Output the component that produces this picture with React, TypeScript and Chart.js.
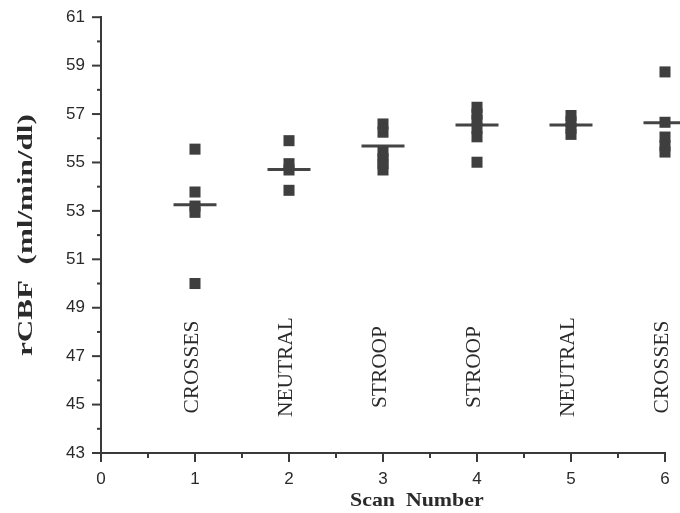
import React, { useEffect, useRef } from 'react';
import { Chart, registerables } from 'chart.js';

Chart.register(...registerables);

// ---- data ----
const scanNumbers = [1, 2, 3, 4, 5, 6];
const conditionLabels = ['CROSSES', 'NEUTRAL', 'STROOP', 'STROOP', 'NEUTRAL', 'CROSSES'];
const scan1Values = [55.55, 53.78, 53.2, 52.94, 50.0];
const scan2Values = [55.9, 54.95, 54.69, 53.85];
const scan3Values = [56.59, 56.25, 55.43, 55.16, 54.95, 54.69];
const scan4Values = [57.28, 57.0, 56.74, 56.41, 56.06, 55.01];
const scan5Values = [56.94, 56.68, 56.41, 56.16];
const scan6Values = [58.74, 56.66, 56.05, 55.69, 55.43];
const scanMeans = [53.25, 54.71, 55.68, 56.55, 56.55, 56.64];
const xAxisMin = 0;
const xAxisMax = 6;
const yAxisMin = 43;
const yAxisMax = 61;
const conditionLabelLevel = 46.55;
const yTitleText = 'rCBF  (ml/min/dl)';
const xTitleText = 'Scan  Number';

const INK = '#2a2a2a';
const AXIS = '#3a3a3a';
const MARK = '#3f3f3f';
const SERIF = '"Liberation Serif", "Times New Roman", serif';
const SANS = '"Liberation Sans", Arial, sans-serif';

function drawText(
  ctx: CanvasRenderingContext2D,
  text: string,
  x: number,
  y: number,
  rotation: number,
  font: string,
  sx: number
) {
  ctx.save();
  ctx.translate(x, y);
  ctx.rotate(rotation);
  ctx.scale(sx, 1);
  ctx.font = font;
  ctx.fillStyle = INK;
  ctx.textAlign = 'center';
  ctx.textBaseline = 'middle';
  ctx.fillText(text, 0, 0);
  ctx.restore();
}

const decorPlugin = {
  id: 'decor',
  afterDraw(chart: any) {
    const { ctx, chartArea, scales } = chart;
    const xs = scales.x;
    const ys = scales.y;
    ctx.save();
    ctx.strokeStyle = AXIS;
    ctx.lineWidth = 2;
    // y ticks: major at odd values (labelled), minor in between
    ys.ticks.forEach((t: any) => {
      const py = ys.getPixelForValue(t.value);
      const major = Math.abs(t.value % 2) === 1;
      const len = major ? 9 : 4;
      ctx.beginPath();
      ctx.moveTo(chartArea.left - len, py);
      ctx.lineTo(chartArea.left, py);
      ctx.stroke();
    });
    // x ticks: major at integers, minor at halves
    xs.ticks.forEach((t: any) => {
      const px = xs.getPixelForValue(t.value);
      const major = Number.isInteger(t.value);
      const len = major ? 9 : 5;
      ctx.beginPath();
      ctx.moveTo(px, chartArea.bottom);
      ctx.lineTo(px, chartArea.bottom + len);
      ctx.stroke();
    });
    ctx.restore();

    // condition labels, rotated
    const labelY = ys.getPixelForValue(conditionLabelLevel);
    conditionLabels.forEach((lab, i) => {
      const px = xs.getPixelForValue(scanNumbers[i]) - 2;
      drawText(ctx, lab, px, labelY, -Math.PI / 2, `normal 20px ${SERIF}`, 1.07);
    });

    // axis titles
    drawText(
      ctx,
      yTitleText,
      27,
      (chartArea.top + chartArea.bottom) / 2,
      -Math.PI / 2,
      `bold 21px ${SERIF}`,
      1.48
    );
    drawText(
      ctx,
      xTitleText,
      xs.getPixelForValue(3.36),
      501,
      0,
      `bold 19px ${SERIF}`,
      1.15
    );
  },
};

export default function App() {
  const canvasRef = useRef<HTMLCanvasElement | null>(null);

  useEffect(() => {
    if (!canvasRef.current) return;
    const allScans = [scan1Values, scan2Values, scan3Values, scan4Values, scan5Values, scan6Values];
    const pointData = allScans.flatMap((vals, i) =>
      vals.map((v) => ({ x: scanNumbers[i], y: v }))
    );
    const meanData = scanMeans.map((v, i) => ({ x: scanNumbers[i], y: v }));

    const chart = new Chart(canvasRef.current, {
      type: 'scatter',
      data: {
        datasets: [
          {
            label: 'Subjects',
            data: pointData,
            pointStyle: 'rect',
            pointRadius: 7.8,
            pointBackgroundColor: MARK,
            pointBorderWidth: 0,
            pointBorderColor: MARK,
            clip: false,
          } as any,
          {
            label: 'Mean',
            data: meanData,
            pointStyle: 'line',
            pointRadius: 21.5,
            pointBorderWidth: 3,
            pointBorderColor: '#444444',
            pointBackgroundColor: '#444444',
            clip: false,
          } as any,
        ],
      },
      options: {
        animation: false,
        responsive: true,
        maintainAspectRatio: false,
        layout: { autoPadding: false, padding: { top: 15, right: 15, left: 0, bottom: 0 } },
        plugins: {
          legend: { display: false },
          tooltip: { enabled: false },
        },
        scales: {
          x: {
            type: 'linear',
            min: xAxisMin,
            max: xAxisMax,
            border: { color: AXIS, width: 2 },
            grid: { drawOnChartArea: false, color: 'transparent', tickLength: 9 },
            ticks: {
              stepSize: 0.5,
              autoSkip: false,
              maxRotation: 0,
              padding: 7,
              color: INK,
              font: { family: SANS, size: 17 },
              callback: (v: any) => (Number.isInteger(v) ? String(v) : ''),
            },
            afterFit: (s: any) => {
              s.height = 60;
            },
          },
          y: {
            type: 'linear',
            min: yAxisMin,
            max: yAxisMax,
            border: { color: AXIS, width: 2 },
            grid: { drawOnChartArea: false, color: 'transparent', tickLength: 9 },
            ticks: {
              stepSize: 1,
              autoSkip: false,
              padding: 7,
              color: INK,
              font: { family: SANS, size: 17 },
              callback: (v: any) => (Math.abs(v % 2) === 1 ? String(v) : ''),
            },
            afterFit: (s: any) => {
              s.width = 101;
            },
          },
        },
      },
      plugins: [decorPlugin],
    });
    return () => chart.destroy();
  }, []);

  return (
    <div style={{ position: 'fixed', left: 0, top: 0, width: 680, height: 513, background: '#fff' }}>
      <canvas ref={canvasRef} />
    </div>
  );
}
